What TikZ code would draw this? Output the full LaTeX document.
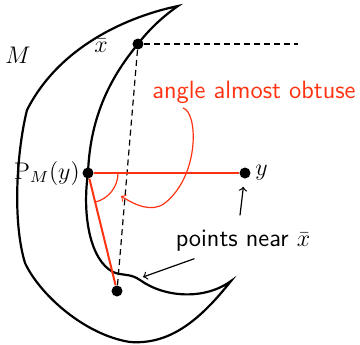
\documentclass[tikz,border=0pt]{standalone}
\usepackage{amsmath,amssymb}
\usepackage{xcolor}
\usepackage{tikz}
\usetikzlibrary{positioning,calc}
\definecolor{hlred}{HTML}{FF3311}
\tikzset{
  dot/.style={circle,fill=black,inner sep=0pt,minimum size=5.5pt},
  outline/.style={line width=1.1pt},
  dashline/.style={semithick,dash pattern=on 3pt off 2pt},
  redseg/.style={hlred,line width=1pt},
  arr/.style={->,semithick},
  lbl/.style={font=\large,inner sep=1pt},
  txt/.style={font=\fontsize{12.5}{15}\selectfont\sffamily}
}

\begin{document}
\begin{tikzpicture}[x=0.5pt,y=-0.5pt]
\useasboundingbox (0,0) rectangle (360,344);

% the set M
\draw[outline] (178,6) .. controls (130,16) and (60,45) .. (27,110)
  .. controls (17,150) and (12,220) .. (25,263)
  .. controls (40,295) and (85,335) .. (130,342)
  .. controls (170,345) and (200,320) .. (231,281)
  .. controls (205,300) and (165,298) .. (140,280)
  .. controls (130,273) and (122,276) .. (113,272)
  .. controls (90,260) and (82,215) .. (88,173)
  .. controls (90,120) and (108,80) .. (138,44)
  .. controls (150,28) and (165,15) .. cycle;

\node[dot] (xbar) at (138,44) {};
\node[dot] (pm) at (88,173) {};
\node[dot] (ydot) at (245,173) {};
\node[dot] (low) at (117,291) {};
\coordinate (dend) at (298,44);
\coordinate (dip) at (143,277);
\coordinate (tail) at (183,108);
\coordinate (tip) at (121,196);

\node[lbl] (mlbl) at (18,55) {$M$};
\node[lbl, left=11pt of xbar, yshift=-1pt] (xlbl) {$\bar x$};
\node[lbl, left=0pt of pm] (pmlbl) {$\mathrm{P}_M(y)$};
\node[lbl, right=1pt of ydot] (ylbl) {$y$};
\node[txt, text=hlred] (obt) at (254,92) {angle almost obtuse};
\node[txt] (pts) at (243,241) {points near $\bar x$};

\draw[dashline] (xbar) -- (dend);
\draw[dashline] (xbar) -- (low);
\draw[redseg] (pm) -- (ydot);
\draw[redseg] (pm) -- (low);
\draw[hlred,semithick] ($(pm)+(30,0)$) arc[start angle=0,end angle=76,radius=30];
\draw[arr,hlred] (tail) .. controls (198,112) and (200,175) .. (165,203)
  .. controls (152,213) and (135,205) .. (tip);

\draw[arr,shorten >=4pt] ([xshift=-1.5pt,yshift=4pt]pts.north) -- (ydot);
\draw[arr] (pts.200) -- (dip);
\end{tikzpicture}
\end{document}
